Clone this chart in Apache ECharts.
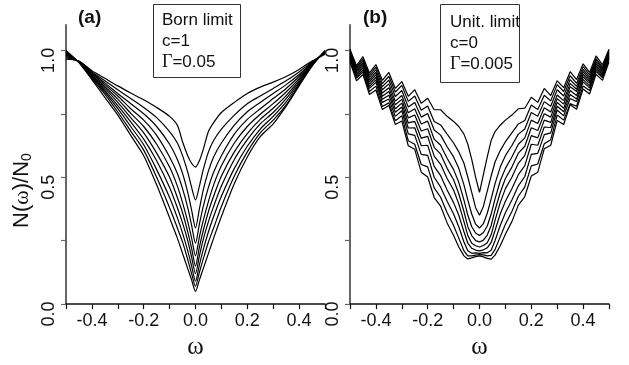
<!DOCTYPE html>
<html>
<head>
<meta charset="utf-8">
<script src="https://cdn.jsdelivr.net/npm/echarts@6/dist/echarts.min.js"></script>
<style>
  html, body { margin: 0; padding: 0; background: #fff; }
  #chart { width: 629px; height: 365px; }
</style>
</head>
<body>
<div id="chart"></div>
<script>
// omega grid, panel (a) Born limit
const omegaBorn = [-0.5, -0.45, -0.4, -0.35, -0.3, -0.25, -0.2, -0.15, -0.1, -0.07, -0.05, -0.03, -0.015, 0,
  0.015, 0.03, 0.05, 0.07, 0.1, 0.15, 0.2, 0.25, 0.3, 0.35, 0.4, 0.45, 0.5];

const born1 = [0.965, 0.958, 0.92, 0.89, 0.86, 0.832, 0.805, 0.775, 0.74, 0.705, 0.64, 0.585, 0.555, 0.54, 0.565, 0.61, 0.68, 0.715, 0.755, 0.795, 0.83, 0.855, 0.875, 0.897, 0.925, 0.958, 0.985];
const born2 = [0.97, 0.957, 0.915, 0.88, 0.845, 0.81, 0.775, 0.735, 0.68, 0.635, 0.585, 0.52, 0.46, 0.41, 0.465, 0.53, 0.6, 0.645, 0.69, 0.745, 0.79, 0.82, 0.85, 0.88, 0.915, 0.955, 0.987];
const born3 = [0.975, 0.956, 0.912, 0.872, 0.83, 0.79, 0.75, 0.7, 0.63, 0.57, 0.515, 0.44, 0.37, 0.3, 0.375, 0.45, 0.525, 0.58, 0.635, 0.705, 0.758, 0.795, 0.83, 0.865, 0.905, 0.952, 0.989];
const born4 = [0.98, 0.955, 0.908, 0.865, 0.82, 0.77, 0.725, 0.665, 0.58, 0.515, 0.455, 0.38, 0.31, 0.24, 0.315, 0.385, 0.46, 0.52, 0.585, 0.67, 0.728, 0.77, 0.81, 0.85, 0.897, 0.95, 0.991];
const born5 = [0.983, 0.955, 0.904, 0.857, 0.808, 0.752, 0.7, 0.63, 0.54, 0.465, 0.4, 0.325, 0.26, 0.19, 0.265, 0.33, 0.405, 0.47, 0.545, 0.635, 0.7, 0.748, 0.79, 0.836, 0.889, 0.948, 0.993];
const born6 = [0.986, 0.954, 0.9, 0.85, 0.795, 0.735, 0.675, 0.595, 0.5, 0.42, 0.36, 0.285, 0.22, 0.15, 0.225, 0.29, 0.365, 0.425, 0.505, 0.6, 0.672, 0.728, 0.772, 0.822, 0.882, 0.946, 0.995];
const born7 = [0.99, 0.954, 0.897, 0.842, 0.782, 0.718, 0.65, 0.565, 0.46, 0.38, 0.32, 0.25, 0.185, 0.12, 0.19, 0.255, 0.325, 0.385, 0.465, 0.57, 0.648, 0.71, 0.755, 0.81, 0.875, 0.944, 0.996];
const born8 = [0.993, 0.953, 0.893, 0.835, 0.77, 0.7, 0.628, 0.53, 0.42, 0.34, 0.28, 0.21, 0.15, 0.09, 0.155, 0.215, 0.285, 0.345, 0.425, 0.535, 0.622, 0.69, 0.74, 0.797, 0.869, 0.942, 0.997];
const born9 = [0.996, 0.953, 0.889, 0.828, 0.757, 0.682, 0.607, 0.5, 0.38, 0.3, 0.245, 0.175, 0.12, 0.07, 0.125, 0.178, 0.245, 0.3, 0.385, 0.505, 0.6, 0.675, 0.725, 0.785, 0.864, 0.94, 0.998];
const born10 = [1.0, 0.952, 0.885, 0.815, 0.745, 0.665, 0.585, 0.47, 0.34, 0.26, 0.2, 0.14, 0.095, 0.05, 0.095, 0.14, 0.2, 0.26, 0.345, 0.475, 0.58, 0.66, 0.71, 0.78, 0.86, 0.938, 1.0];

// omega grid, panel (b) unitary limit
const omegaUnit = [-0.5, -0.475, -0.45, -0.425, -0.4, -0.375, -0.35, -0.325, -0.3, -0.275, -0.25, -0.225, -0.2, -0.175, -0.15,
  -0.125, -0.1, -0.08, -0.06, -0.045, -0.03, -0.015, 0, 0.015, 0.03, 0.045, 0.06, 0.08, 0.1, 0.125,
  0.15, 0.175, 0.2, 0.225, 0.25, 0.275, 0.3, 0.325, 0.35, 0.375, 0.4, 0.425, 0.45, 0.475, 0.5];

const unit1 = [1.005, 0.94, 0.975, 0.911, 0.944, 0.882, 0.913, 0.85, 0.877, 0.819, 0.845, 0.792, 0.811, 0.766, 0.766,
  0.74, 0.72, 0.7, 0.67, 0.63, 0.57, 0.5, 0.44, 0.51, 0.58, 0.645, 0.68, 0.705, 0.725, 0.745,
  0.77, 0.772, 0.815, 0.795, 0.85, 0.822, 0.88, 0.853, 0.916, 0.885, 0.947, 0.913, 0.978, 0.943, 1.005];
const unit2 = [1.0, 0.933, 0.967, 0.902, 0.934, 0.869, 0.898, 0.836, 0.862, 0.799, 0.82, 0.764, 0.781, 0.72, 0.706,
  0.67, 0.635, 0.6, 0.555, 0.5, 0.44, 0.38, 0.35, 0.385, 0.445, 0.505, 0.56, 0.605, 0.64, 0.675,
  0.71, 0.724, 0.785, 0.767, 0.823, 0.801, 0.865, 0.838, 0.9, 0.87, 0.936, 0.903, 0.968, 0.934, 1.0];
const unit3 = [0.995, 0.927, 0.96, 0.894, 0.924, 0.857, 0.883, 0.818, 0.842, 0.777, 0.795, 0.737, 0.751, 0.686, 0.666,
  0.62, 0.58, 0.535, 0.47, 0.41, 0.355, 0.315, 0.3, 0.317, 0.358, 0.415, 0.475, 0.54, 0.585, 0.625,
  0.67, 0.69, 0.755, 0.74, 0.798, 0.78, 0.845, 0.82, 0.885, 0.858, 0.925, 0.895, 0.962, 0.928, 0.995];
const unit4 = [0.99, 0.921, 0.952, 0.884, 0.914, 0.845, 0.868, 0.8, 0.822, 0.754, 0.77, 0.71, 0.721, 0.65, 0.626,
  0.575, 0.53, 0.48, 0.41, 0.35, 0.305, 0.28, 0.27, 0.282, 0.308, 0.355, 0.415, 0.485, 0.535, 0.58,
  0.63, 0.655, 0.725, 0.712, 0.774, 0.757, 0.824, 0.802, 0.87, 0.847, 0.916, 0.886, 0.954, 0.922, 0.99];
const unit5 = [0.985, 0.915, 0.945, 0.876, 0.904, 0.832, 0.853, 0.786, 0.807, 0.734, 0.745, 0.682, 0.691, 0.618, 0.591,
  0.535, 0.49, 0.435, 0.365, 0.305, 0.27, 0.25, 0.245, 0.252, 0.272, 0.31, 0.37, 0.44, 0.495, 0.54,
  0.595, 0.622, 0.695, 0.684, 0.75, 0.737, 0.81, 0.788, 0.857, 0.838, 0.906, 0.878, 0.947, 0.917, 0.985];
const unit6 = [0.98, 0.909, 0.937, 0.867, 0.894, 0.819, 0.838, 0.77, 0.792, 0.714, 0.72, 0.654, 0.661, 0.583, 0.551,
  0.495, 0.45, 0.395, 0.325, 0.27, 0.24, 0.23, 0.225, 0.231, 0.242, 0.273, 0.33, 0.4, 0.455, 0.5,
  0.555, 0.586, 0.664, 0.655, 0.725, 0.716, 0.795, 0.772, 0.842, 0.822, 0.896, 0.87, 0.94, 0.91, 0.98];
const unit7 = [0.975, 0.903, 0.93, 0.858, 0.884, 0.807, 0.823, 0.756, 0.777, 0.694, 0.695, 0.624, 0.626, 0.543, 0.506,
  0.45, 0.4, 0.35, 0.285, 0.24, 0.22, 0.213, 0.21, 0.214, 0.222, 0.243, 0.29, 0.355, 0.405, 0.455,
  0.51, 0.546, 0.63, 0.626, 0.698, 0.696, 0.78, 0.758, 0.826, 0.808, 0.886, 0.86, 0.933, 0.905, 0.975];
const unit8 = [0.97, 0.896, 0.922, 0.85, 0.874, 0.795, 0.808, 0.74, 0.762, 0.671, 0.665, 0.59, 0.586, 0.5, 0.461,
  0.405, 0.355, 0.305, 0.245, 0.21, 0.2, 0.202, 0.2, 0.203, 0.202, 0.212, 0.25, 0.31, 0.36, 0.41,
  0.466, 0.503, 0.59, 0.594, 0.668, 0.675, 0.765, 0.742, 0.81, 0.798, 0.876, 0.852, 0.925, 0.898, 0.97];
const unit9 = [0.965, 0.89, 0.915, 0.838, 0.859, 0.779, 0.793, 0.723, 0.742, 0.644, 0.63, 0.55, 0.541, 0.458, 0.421,
  0.36, 0.31, 0.26, 0.21, 0.19, 0.19, 0.193, 0.195, 0.194, 0.19, 0.192, 0.215, 0.265, 0.315, 0.365,
  0.425, 0.462, 0.545, 0.552, 0.632, 0.648, 0.745, 0.725, 0.79, 0.78, 0.86, 0.842, 0.917, 0.892, 0.965];
const unit10 = [0.955, 0.88, 0.905, 0.826, 0.844, 0.767, 0.783, 0.708, 0.722, 0.624, 0.61, 0.52, 0.501, 0.42, 0.386,
  0.32, 0.27, 0.225, 0.19, 0.178, 0.182, 0.187, 0.19, 0.186, 0.18, 0.177, 0.193, 0.23, 0.275, 0.325,
  0.39, 0.424, 0.505, 0.52, 0.612, 0.626, 0.724, 0.708, 0.786, 0.768, 0.848, 0.828, 0.906, 0.882, 0.955];

const xTicks = [-0.5, -0.4, -0.3, -0.2, -0.1, 0, 0.1, 0.2, 0.3, 0.4, 0.5];
const xLabels = [-0.4, -0.2, 0, 0.2, 0.4];
const yTicks = [0, 0.25, 0.5, 0.75, 1.0];
const yLabels = [0, 0.5, 1.0];

const bornCurves = [born1, born2, born3, born4, born5, born6, born7, born8, born9, born10];
const unitCurves = [unit1, unit2, unit3, unit4, unit5, unit6, unit7, unit8, unit9, unit10];

const SANS = "Liberation Sans";
const SERIF = "Liberation Serif";

function xAxisFor(gridIndex) {
  return {
    type: "value",
    gridIndex: gridIndex,
    min: -0.5,
    max: 0.5,
    name: "ω",
    nameLocation: "middle",
    nameGap: 30,
    nameTextStyle: { fontFamily: SERIF, fontSize: 25, color: "#111" },
    axisLine: { show: true, onZero: false, lineStyle: { color: "#111", width: 1.5 } },
    axisTick: { show: true, customValues: xTicks, length: 5, lineStyle: { color: "#111", width: 1.2 } },
    axisLabel: {
      customValues: xLabels,
      formatter: (v) => v.toFixed(1),
      fontFamily: SANS,
      fontSize: 18,
      color: "#111",
      margin: 8,
    },
    splitLine: { show: false },
  };
}

function yAxisFor(gridIndex, withName) {
  const axis = {
    type: "value",
    gridIndex: gridIndex,
    min: 0,
    max: 1.1,
    axisLine: { show: true, onZero: false, lineStyle: { color: "#666", width: 2 } },
    axisTick: { show: true, customValues: yTicks, length: 5, lineStyle: { color: "#666", width: 1.2 } },
    axisLabel: {
      customValues: yLabels,
      formatter: (v) => v.toFixed(1),
      rotate: 90,
      fontFamily: SANS,
      fontSize: 18,
      color: "#111",
      margin: 8,
      padding: [0, 20, 0, 0],
    },
    splitLine: { show: false },
  };
  if (withName) {
    axis.name = "{n|N(}{w|ω}{n|)/N}{s|0}";
    axis.nameLocation = "middle";
    axis.nameRotate = 90;
    axis.nameGap = 32;
    axis.nameTextStyle = {
      padding: [0, 52, 0, 0],
      rich: {
        n: { fontFamily: SANS, fontSize: 22, color: "#111" },
        w: { fontFamily: SERIF, fontSize: 22, color: "#111" },
        s: { fontFamily: SANS, fontSize: 14, color: "#111", verticalAlign: "bottom", padding: [10, 0, 0, 0] },
      },
    };
  }
  return axis;
}

function lineSeries(curves, omega, idx, smooth) {
  return curves.map((ys, i) => ({
    type: "line",
    name: (idx === 0 ? "born" : "unit") + (i + 1),
    xAxisIndex: idx,
    yAxisIndex: idx,
    data: ys.map((y, k) => [omega[k], y]),
    showSymbol: false,
    smooth: smooth,
    silent: true,
    lineStyle: { color: "#000", width: 1.2 },
  }));
}

const chart = echarts.init(document.getElementById("chart"), null, { renderer: "canvas" });

chart.setOption({
  backgroundColor: "#fff",
  animation: false,
  grid: [
    { left: 66, right: 304, top: 25, bottom: 58 },
    { left: 350, right: 20, top: 25, bottom: 58 },
  ],
  xAxis: [xAxisFor(0), xAxisFor(1)],
  yAxis: [yAxisFor(0, true), yAxisFor(1, false)],
  series: [
    ...lineSeries(bornCurves, omegaBorn, 0, 0.25),
    ...lineSeries(unitCurves, omegaUnit, 1, false),
  ],
  graphic: [
    { type: "text", left: 78, top: 8, style: { text: "(a)", font: "bold 19px " + SANS, fill: "#111" } },
    { type: "text", left: 363, top: 8, style: { text: "(b)", font: "bold 19px " + SANS, fill: "#111" } },
    {
      type: "rect",
      shape: { x: 153.5, y: 4.5, width: 87, height: 73 },
      style: { fill: "none", stroke: "#333", lineWidth: 1 },
    },
    {
      type: "text",
      x: 162,
      y: 10,
      style: {
        text: "Born limit\nc=1\n{g|Γ}=0.05",
        fontFamily: SANS,
        fontSize: 17,
        lineHeight: 21,
        fill: "#111",
        rich: { g: { fontFamily: SERIF, fontSize: 18, fill: "#111", lineHeight: 21 } },
      },
    },
    {
      type: "rect",
      shape: { x: 440.5, y: 4.5, width: 79, height: 78 },
      style: { fill: "none", stroke: "#333", lineWidth: 1 },
    },
    {
      type: "text",
      x: 450,
      y: 12,
      style: {
        text: "Unit. limit\nc=0\n{g|Γ}=0.005",
        fontFamily: SANS,
        fontSize: 17,
        lineHeight: 21,
        fill: "#111",
        rich: { g: { fontFamily: SERIF, fontSize: 18, fill: "#111", lineHeight: 21 } },
      },
    },
  ],
});
</script>
</body>
</html>
